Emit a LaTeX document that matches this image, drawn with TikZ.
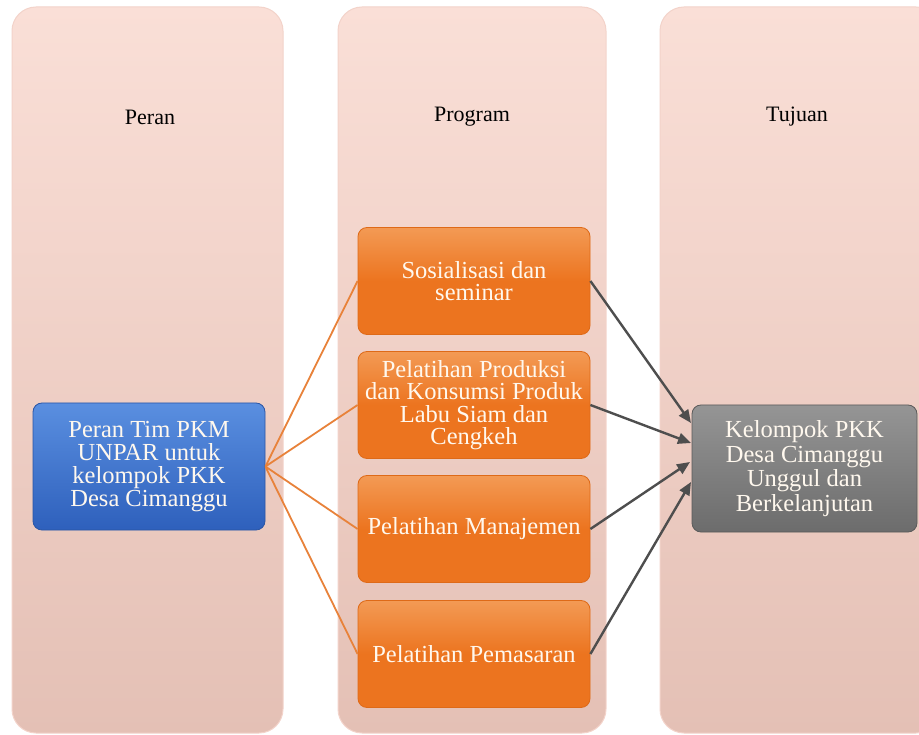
\documentclass[tikz,border=0pt]{standalone}
\usepackage{fontspec}
\setmainfont{Liberation Serif}
\usetikzlibrary{arrows.meta}
\definecolor{colTop}{HTML}{FADFD7}
\definecolor{colBot}{HTML}{E4C0B5}
\definecolor{colEdge}{HTML}{F3D3CA}
\definecolor{blueTop}{HTML}{5A8FE0}
\definecolor{blueBot}{HTML}{2E60BC}
\definecolor{blueEdge}{HTML}{2A55A5}
\definecolor{orTop}{HTML}{F39A55}
\definecolor{orBot}{HTML}{EC741F}
\definecolor{orEdge}{HTML}{DE6A18}
\definecolor{grTop}{HTML}{959595}
\definecolor{grBot}{HTML}{6C6C6C}
\definecolor{grEdge}{HTML}{5A5A5A}
\definecolor{orLine}{HTML}{E8823A}
\definecolor{grLine}{HTML}{4E4E4E}
\definecolor{boxText}{HTML}{FFF8EE}
\tikzset{
  colbox/.style={rounded corners=24pt, top color=colTop, bottom color=colBot, draw=colEdge, line width=1pt},
  header/.style={font=\fontsize{22}{24}\selectfont, text=black},
  boxtext/.style={font=\fontsize{24.5}{22.5}\selectfont, text=boxText, align=center, inner sep=0pt},
  bluebox/.style={boxtext, font=\fontsize{24.5}{23}\selectfont, rounded corners=9pt, top color=blueTop, bottom color=blueBot, draw=blueEdge, line width=0.8pt, minimum width=232pt, minimum height=127pt},
  orbox/.style={boxtext, rounded corners=9pt, top color=orTop, bottom color=orBot, middle color=orBot, draw=orEdge, line width=0.8pt, minimum width=232pt, minimum height=107pt},
  grbox/.style={boxtext, font=\fontsize{24.5}{24.5}\selectfont, rounded corners=9pt, top color=grTop, bottom color=grBot, draw=grEdge, line width=0.8pt, minimum width=225pt, minimum height=127pt},
  orconn/.style={draw=orLine, line width=1.8pt},
  grarrow/.style={draw=grLine, line width=2.4pt, -{Triangle[length=13pt,width=11pt]}}
}
\begin{document}
\begin{tikzpicture}[x=1pt,y=-1pt]
\useasboundingbox (0,0) rectangle (919,735);
\clip (0,0) rectangle (919,735);
\fill[white] (0,0) rectangle (919,735);
% columns
\path[colbox] (12,7) rectangle (283,733);
\path[colbox] (338,7) rectangle (606,733);
\path[colbox] (660,7) rectangle (940,733);
% headers
\node[header] (h1) at (150,117) {Peran};
\node[header] (h2) at (472,117) {Program};
\node[header] (h3) at (797,117) {Tujuan};
% boxes
\node[bluebox] (b) at (149,466.5) {Peran Tim PKM\\UNPAR untuk\\kelompok PKK\\Desa Cimanggu};
\node[orbox] (o1) at (474,281) {Sosialisasi dan\\seminar};
\node[orbox] (o2) at (474,405) {Pelatihan Produksi\\dan Konsumsi Produk\\Labu Siam dan\\Cengkeh};
\node[orbox] (o3) at (474,529) {Pelatihan Manajemen};
\node[orbox] (o4) at (474,654) {Pelatihan Pemasaran};
\node[grbox] (g) at (804.5,468.5) {Kelompok PKK\\Desa Cimanggu\\Unggul dan\\Berkelanjutan};
% connectors
\draw[orconn] (b.east) -- (o1.west);
\draw[orconn] (b.east) -- (o2.west);
\draw[orconn] (b.east) -- (o3.west);
\draw[orconn] (b.east) -- (o4.west);
\coordinate (t1) at (691,423);
\coordinate (t2) at (691,443);
\coordinate (t3) at (690,462);
\coordinate (t4) at (691,482);
\draw[grarrow] (o1.east) -- (t1);
\draw[grarrow] (o2.east) -- (t2);
\draw[grarrow] (o3.east) -- (t3);
\draw[grarrow] (o4.east) -- (t4);
\end{tikzpicture}
\end{document}
